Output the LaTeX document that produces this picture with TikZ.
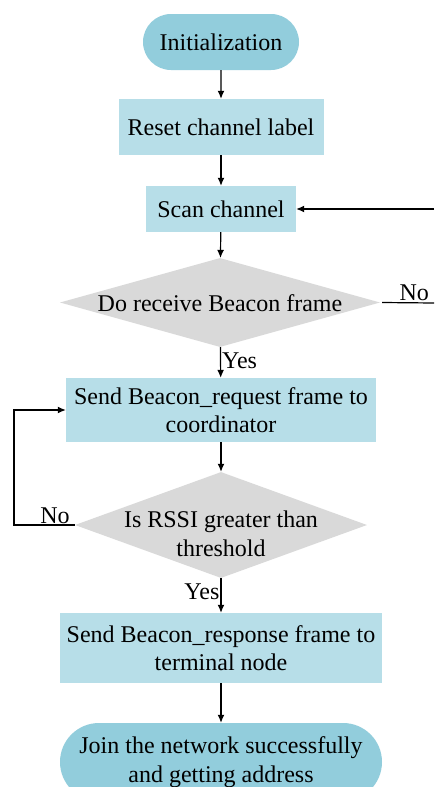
\documentclass[tikz,border=0pt]{standalone}
\usepackage{fontspec}
\setmainfont{Liberation Serif}
\usetikzlibrary{shapes.geometric,shapes.misc,arrows.meta}
\definecolor{termfill}{HTML}{92CDDC}
\definecolor{boxfill}{HTML}{B7DEE8}
\definecolor{decfill}{HTML}{D9D9D9}
\tikzset{
  every node/.style={font=\rmfamily\fontsize{24}{28.5}\selectfont, text=black},
  terminal/.style={rounded rectangle, fill=termfill, inner sep=0pt, align=center},
  procbox/.style={rectangle, fill=boxfill, inner sep=0pt, align=center},
  decision/.style={diamond, fill=decfill, inner sep=0pt},
  dtext/.style={align=center, inner sep=0pt},
  flow/.style={-{Latex[length=8pt,width=7pt]}, line width=1.2pt, black},
  plain/.style={line width=1.2pt, black},
  lbl/.style={inner sep=1pt}
}
\begin{document}
\begin{tikzpicture}[x=1pt,y=-1pt]
\useasboundingbox (0,0) rectangle (434,787);
\fill[white] (0,0) rectangle (434,787);

% main column
\node[terminal, minimum width=156, minimum height=56] (init) at (221,42) {Initialization};
\node[procbox, minimum width=205, minimum height=56] (reset) at (221,127) {Reset channel label};
\node[procbox, minimum width=150, minimum height=46] (scan) at (221,209) {Scan channel};
\node[decision, minimum width=320, minimum height=89] (d1) at (220,302.5) {};
\node[dtext] (d1t) at (220,303) {Do receive Beacon frame};
\node[procbox, minimum width=310, minimum height=64] (req) at (221,410) {Send Beacon\_request frame to\\coordinator};
\node[decision, minimum width=292, minimum height=106] (d2) at (221,525) {};
\node[dtext] (d2t) at (221,534) {Is RSSI greater than\\threshold};
\node[procbox, minimum width=322, minimum height=70] (resp) at (221,648) {Send Beacon\_response frame to\\terminal node};
\node[terminal, minimum width=322, minimum height=78] (join) at (221,762) {Join the network successfully\\and getting address};

% helper points at the margins
\coordinate (rin) at (434,209);
\coordinate (rout) at (434,303);
\coordinate (lb) at (14,525);
\coordinate (lt) at (14,410);

% connectors
\draw[flow] (init) -- (reset);
\draw[flow] (reset) -- (scan);
\draw[flow] (scan) -- (d1);
\draw[flow] (rin) -- (scan);
\draw[plain] (d1.east) ++(2,0) -- (rout) node[lbl, pos=0.62, above] (no1) {No};
\draw[flow] (d1) -- (req) node[lbl, pos=0.45, right] (yes1) {Yes};
\draw[flow] (req) -- (d2);
\draw[flow] (d2.west) -- (lb) -- (lt) -- (req.west);
\node[lbl, above] (no2) at (55,525) {No};
\draw[flow] (d2) -- (resp) node[lbl, pos=0.4, left] (yes2) {Yes};
\draw[flow] (resp) -- (join);
\end{tikzpicture}
\end{document}
